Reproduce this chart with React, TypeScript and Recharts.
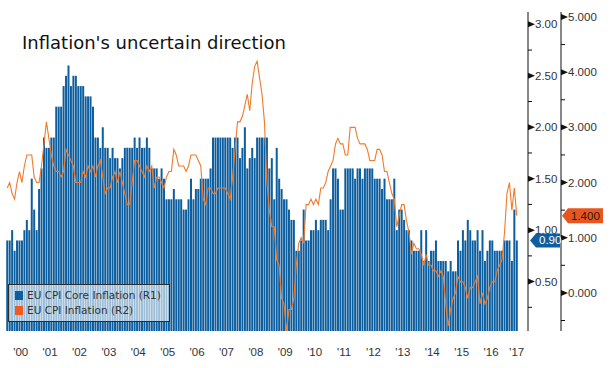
import { ComposedChart, Bar, Line, XAxis, YAxis, LabelList } from "recharts";

// year tick labels, one per calendar year
const yearLabels = [
  "'00", "'01", "'02", "'03", "'04", "'05", "'06", "'07", "'08",
  "'09", "'10", "'11", "'12", "'13", "'14", "'15", "'16", "'17",
];

// EU CPI Core Inflation (R1), monthly, Jan 2000 - May 2017
const core = [
  0.9, 0.9, 1.0, 0.8, 0.9, 0.9, 0.9, 1.0, 1.1, 1.0, 1.5, 1.2,
  1.0, 1.4, 1.6, 1.9, 1.8, 1.8, 1.9, 1.9, 2.2, 2.2, 2.2, 2.4,
  2.5, 2.6, 2.4, 2.5, 2.5, 2.4, 2.4, 2.4, 2.3, 2.3, 2.3, 2.2,
  1.9, 1.9, 1.8, 2.0, 1.8, 1.8, 1.7, 1.8, 1.7, 1.7, 1.6, 1.7,
  1.8, 1.8, 1.8, 1.8, 1.9, 1.8, 1.9, 1.8, 1.8, 1.9, 1.8, 1.6,
  1.6, 1.6, 1.5, 1.6, 1.5, 1.3, 1.3, 1.3, 1.4, 1.3, 1.3, 1.3,
  1.2, 1.2, 1.3, 1.5, 1.3, 1.4, 1.4, 1.5, 1.5, 1.5, 1.5, 1.6,
  1.9, 1.9, 1.9, 1.9, 1.9, 1.9, 1.9, 1.9, 1.8, 1.9, 1.9, 1.7,
  1.8, 2.0, 1.6, 1.7, 1.8, 1.7, 1.9, 1.9, 1.9, 1.9, 1.9, 1.6,
  1.7, 1.3, 1.8, 1.5, 1.4, 1.3, 1.3, 1.2, 1.1, 1.1, 0.8, 0.8,
  0.9, 1.2, 0.9, 0.9, 1.0, 1.0, 1.1, 1.0, 1.1, 1.1, 1.1, 1.0,
  1.3, 1.6, 1.6, 1.5, 1.2, 1.2, 1.6, 1.6, 1.6, 1.6, 1.5, 1.6,
  1.6, 1.5, 1.6, 1.6, 1.6, 1.6, 1.5, 1.5, 1.5, 1.4, 1.5, 1.3,
  1.3, 1.3, 1.5, 1.0, 1.2, 1.2, 1.1, 1.0, 1.0, 0.9, 0.8, 0.8,
  0.8, 1.0, 0.7, 1.0, 0.7, 0.8, 0.8, 0.9, 0.7, 0.7, 0.7, 0.7,
  0.6, 0.7, 0.6, 0.6, 0.9, 0.8, 1.0, 0.9, 1.1, 1.0, 0.9, 0.9,
  1.0, 0.8, 1.0, 0.7, 0.8, 0.9, 0.9, 0.8, 0.8, 0.8, 0.8, 0.9,
  0.9, 0.9, 0.7, 1.2, 0.9,
];

// EU CPI Inflation (R2), monthly, Jan 2000 - May 2017
const headline = [
  1.9, 2.0, 1.8, 1.7, 2.0, 2.2, 2.0, 2.3, 2.5, 2.5, 2.5, 2.1,
  2.0, 2.0, 2.3, 2.7, 3.1, 2.8, 2.5, 2.3, 2.2, 2.2, 2.1, 2.2,
  2.6, 2.5, 2.4, 2.3, 2.0, 2.0, 2.0, 2.2, 2.1, 2.3, 2.2, 2.3,
  2.1, 2.3, 2.4, 2.1, 1.8, 1.9, 1.9, 2.1, 2.2, 2.0, 2.2, 2.0,
  1.8, 1.6, 1.6, 2.0, 2.4, 2.4, 2.3, 2.2, 2.1, 2.3, 2.2, 2.3,
  1.9, 2.1, 2.1, 2.0, 1.9, 2.1, 2.2, 2.2, 2.6, 2.5, 2.3, 2.3,
  2.3, 2.2, 2.3, 2.5, 2.5, 2.5, 2.4, 2.3, 1.7, 1.6, 1.9, 1.9,
  1.8, 1.8, 1.9, 1.9, 1.9, 1.9, 1.8, 1.7, 2.1, 2.6, 3.1, 3.1,
  3.2, 3.4, 3.6, 3.3, 3.8, 4.1, 4.2, 3.9, 3.6, 3.1, 2.0, 1.5,
  1.2, 1.2, 0.6, 0.5, -0.1, -0.2, -0.7, -0.3, -0.3, -0.1, 0.5, 0.9,
  1.0, 0.9, 1.6, 1.6, 1.7, 1.6, 1.7, 1.6, 1.9, 1.9, 2.0, 2.2,
  2.3, 2.4, 2.7, 2.8, 2.7, 2.7, 2.5, 2.5, 3.0, 3.0, 3.0, 2.8,
  2.7, 2.7, 2.7, 2.6, 2.4, 2.4, 2.4, 2.6, 2.6, 2.5, 2.2, 2.2,
  2.0, 1.8, 1.7, 1.2, 1.4, 1.6, 1.6, 1.3, 1.1, 0.7, 0.9, 0.8,
  0.8, 0.7, 0.5, 0.7, 0.5, 0.5, 0.4, 0.4, 0.3, 0.4, 0.3, -0.2,
  -0.6, -0.3, -0.1, 0.0, 0.3, 0.2, 0.2, 0.1, -0.1, 0.1, 0.1, 0.2,
  0.3, -0.2, 0.0, -0.2, -0.1, 0.1, 0.2, 0.2, 0.4, 0.5, 0.6, 1.1,
  1.8, 2.0, 1.5, 1.9, 1.4,
];

// axis ticks (minor ones in between the labelled ones)
const r1Ticks = [0.25, 0.5, 0.75, 1.0, 1.25, 1.5, 1.75, 2.0, 2.25, 2.5, 2.75, 3.0];
const r2Ticks = [-0.5, 0, 0.5, 1, 1.5, 2, 2.5, 3, 3.5, 4, 4.5, 5];

const BLUE = "#0d5e9e";
const ORANGE = "#f07a2c";
const NUM_FONT = "'Liberation Sans', Arial, sans-serif";
const TXT_FONT = "'DejaVu Sans', Verdana, sans-serif";

const data = core.map((v, i) => ({
  month: `${2000 + Math.floor(i / 12)}-${String((i % 12) + 1).padStart(2, "0")}`,
  core: v,
  cpi: headline[i],
}));
const last = data.length - 1;

// year separators at every January (except the first), labels mid-year
const sepTicks = data.filter((_, i) => i > 0 && i % 12 === 0).map((d) => d.month);
const labelTicks = yearLabels.map((_, k) =>
  k * 12 + 6 <= last ? data[k * 12 + 6].month : data[last].month
);

const HALF_BAND = 1.22;

const SepTick = ({ x, y }: any) => (
  <line x1={x - HALF_BAND} x2={x - HALF_BAND} y1={y + 12} y2={y + 29} stroke="#777" strokeWidth={1} />
);

const YearTick = ({ x, y, payload }: any) => {
  const yr = Number(String(payload.value).slice(0, 4)) - 2000;
  const isLast = payload.value === data[last].month;
  return (
    <text
      x={isLast ? x : x - HALF_BAND}
      y={y + 25}
      textAnchor="middle"
      fontSize={11.5}
      fontFamily={NUM_FONT}
      fill="#333"
    >
      {yearLabels[yr]}
    </text>
  );
};

const makeRightTick = (isMajor: (v: number) => boolean, digits: number) => ({ x, y, payload }: any) => {
  const v = payload.value as number;
  if (!isMajor(v)) {
    return <line x1={x} x2={x + 4} y1={y} y2={y} stroke="#111" strokeWidth={1} />;
  }
  return (
    <g>
      <polygon points={`${x},${y - 3} ${x + 7},${y} ${x},${y + 3}`} fill="#111" />
      <text x={x + 7} y={y + 4} fontSize={11.5} fontFamily={NUM_FONT} fill="#333">
        {v.toFixed(digits)}
      </text>
    </g>
  );
};

const R1Tick = makeRightTick((v) => Math.abs(v * 2 - Math.round(v * 2)) < 1e-6, 2);
const R2Tick = makeRightTick((v) => Math.abs(v - Math.round(v)) < 1e-6, 3);

// last-value tags sitting on the right axes
const CoreTag = (p: any) => {
  if (p.index !== last) return null;
  const y = p.y;
  const x0 = 530;
  return (
    <g>
      <polygon
        points={`${x0},${y} ${x0 + 6},${y - 7} ${x0 + 30},${y - 7} ${x0 + 30},${y + 7} ${x0 + 6},${y + 7}`}
        fill={BLUE}
      />
      <text x={x0 + 9} y={y + 4} fontSize={11.5} fontFamily={NUM_FONT} fill="#fff">
        {Number(p.value).toFixed(2)}
      </text>
    </g>
  );
};

const CpiTag = (p: any) => {
  if (p.index !== last) return null;
  const y = p.y;
  const x0 = 562;
  return (
    <g>
      <polygon
        points={`${x0},${y} ${x0 + 6},${y - 7.5} ${x0 + 41},${y - 7.5} ${x0 + 41},${y + 7.5} ${x0 + 6},${y + 7.5}`}
        fill="#e8561f"
      />
      <text x={x0 + 9} y={y + 4} fontSize={11.5} fontFamily={NUM_FONT} fill="#2a1a10">
        {Number(p.value).toFixed(3)}
      </text>
    </g>
  );
};

export default function App() {
  return (
    <div style={{ position: "absolute", left: 0, top: 0, width: 616, height: 368, background: "#fff" }}>
      <ComposedChart
        width={616}
        height={368}
        data={data}
        margin={{ top: 12, right: 0, bottom: 0, left: 6 }}
      >
        <XAxis
          xAxisId="sep"
          dataKey="month"
          height={0}
          ticks={sepTicks}
          interval={0}
          tick={<SepTick />}
          tickSize={0}
          tickMargin={0}
          axisLine={false}
          tickLine={false}
          padding={{ left: 0, right: 10 }}
        />
        <XAxis
          xAxisId="lab"
          dataKey="month"
          height={37}
          ticks={labelTicks}
          interval={0}
          tick={<YearTick />}
          tickSize={0}
          tickMargin={0}
          axisLine={false}
          tickLine={false}
          padding={{ left: 0, right: 10 }}
        />
        <YAxis
          yAxisId="r1"
          orientation="right"
          width={33}
          domain={[0.02, 3.12]}
          allowDataOverflow
          ticks={r1Ticks}
          interval={0}
          tick={<R1Tick />}
          tickSize={0}
          tickMargin={0}
          tickLine={false}
          axisLine={{ stroke: "#111" }}
        />
        <YAxis
          yAxisId="r2"
          orientation="right"
          width={55}
          domain={[-0.69, 5.09]}
          allowDataOverflow
          ticks={r2Ticks}
          interval={0}
          tick={<R2Tick />}
          tickSize={0}
          tickMargin={0}
          tickLine={false}
          axisLine={{ stroke: "#111" }}
        />
        <Bar
          xAxisId="sep"
          yAxisId="r1"
          dataKey="core"
          fill={BLUE}
          barCategoryGap="28%"
          isAnimationActive={false}
        >
          <LabelList dataKey="core" content={<CoreTag />} />
        </Bar>
        <Line
          xAxisId="sep"
          yAxisId="r2"
          type="linear"
          dataKey="cpi"
          stroke={ORANGE}
          strokeWidth={1.1}
          dot={false}
          isAnimationActive={false}
          label={<CpiTag />}
        />
      </ComposedChart>

      <div
        style={{
          position: "absolute",
          left: 22,
          top: 31,
          fontFamily: TXT_FONT,
          fontSize: 18,
          lineHeight: "24px",
          color: "#111",
          whiteSpace: "nowrap",
        }}
      >
        Inflation's uncertain direction
      </div>

      <div
        style={{
          position: "absolute",
          left: 8,
          top: 284,
          width: 160,
          height: 36,
          border: "1px solid #2b2b2b",
          background: "rgba(255,255,255,0.6)",
          fontFamily: TXT_FONT,
          fontSize: 10.5,
          color: "#333",
        }}
      >
        <div style={{ position: "absolute", left: 6, top: 6, width: 8, height: 9, background: BLUE }} />
        <div style={{ position: "absolute", left: 18, top: 4, whiteSpace: "nowrap" }}>
          EU CPI Core Inflation (R1)
        </div>
        <div style={{ position: "absolute", left: 6, top: 21, width: 8, height: 9, background: "#f05a22" }} />
        <div style={{ position: "absolute", left: 18, top: 19, whiteSpace: "nowrap" }}>
          EU CPI Inflation (R2)
        </div>
      </div>
    </div>
  );
}
